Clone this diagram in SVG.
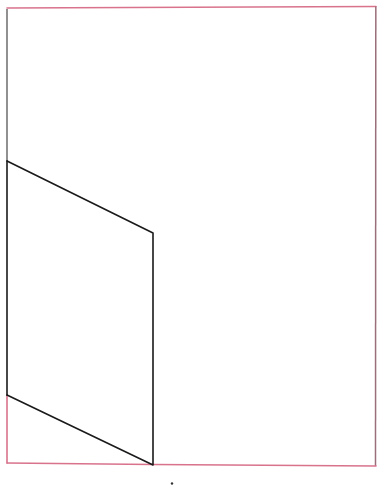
<svg xmlns="http://www.w3.org/2000/svg" width="379" height="493" viewBox="0 0 379 493">
<style>
.pink{stroke:#d9738c;stroke-width:1.6;fill:none;stroke-linecap:round}
.ink{stroke:#1a1a1a;stroke-width:1.6;fill:none;stroke-linecap:round;stroke-linejoin:round}
.grey{stroke:#555;stroke-width:1.3;fill:none}
.mix{stroke:#9a6f7b;stroke-width:1.5;fill:none}
</style>
<rect width="379" height="493" fill="#ffffff"/>
<g id="frame">
<line class="pink" x1="7" y1="8" x2="376" y2="6.5"/>
<line class="grey" x1="7" y1="9" x2="7" y2="161"/>
<line class="mix" x1="375.8" y1="6.5" x2="375.5" y2="466"/>
<line class="pink" x1="7" y1="395" x2="7" y2="463"/>
<line class="pink" x1="7" y1="463" x2="153" y2="464.5"/>
<line class="pink" x1="153" y1="464.5" x2="376" y2="466"/>
</g>
<g id="panel">
<polyline class="ink" points="7,161 153,233 153,465 7,395"/>
<line class="ink" x1="7" y1="161" x2="7" y2="395" stroke-width="2.4"/>
</g>
<g id="mark">
<circle cx="172" cy="483.5" r="1.2" fill="#333"/>
</g>
</svg>
